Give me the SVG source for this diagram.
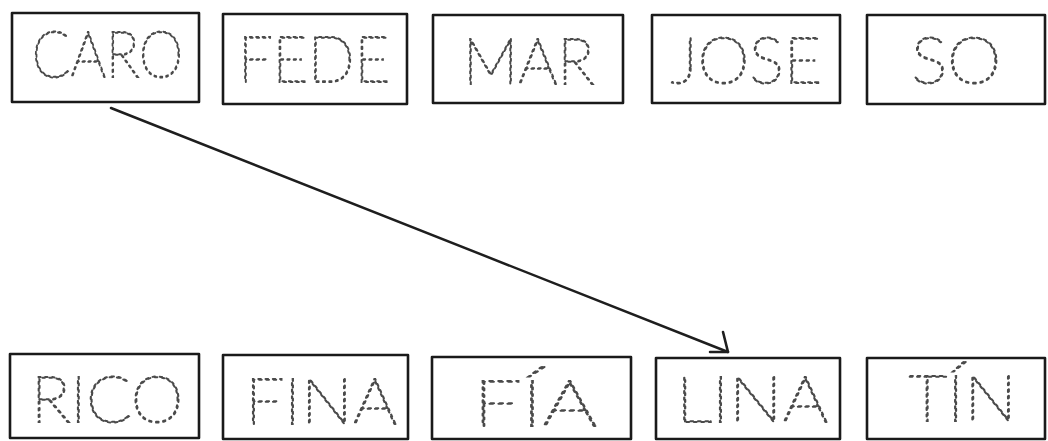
<svg xmlns="http://www.w3.org/2000/svg" width="1048" height="441" viewBox="0 0 1048 441">
  <style>
    .box { fill: #ffffff; stroke: #1a1a1a; stroke-width: 2.6; stroke-linejoin: round; }
    .lbl { font-family: "Lato", "Inter", "Roboto", "DejaVu Sans", sans-serif; font-weight: 100; font-size: 63px; fill: none; stroke: #4a4a4a; stroke-width: 2; stroke-dasharray: 2.2 4.4; stroke-linecap: round; }
    .conn { fill: none; stroke: #1e1e1e; stroke-width: 2.5; stroke-linecap: round; }
  </style>
  <defs>
    <marker id="arrow" markerUnits="userSpaceOnUse" viewBox="-22 -22 28 34" refX="0" refY="0" markerWidth="28" markerHeight="34" orient="auto" overflow="visible">
      <path d="M-16.7,6.6 L0,0 L-12,-16.8" fill="none" stroke="#1e1e1e" stroke-width="2.6" stroke-linecap="round" stroke-linejoin="round"/>
    </marker>
  </defs>
  <rect width="1048" height="441" fill="#ffffff"/>

  <g id="node-caro"><rect class="box" x="12" y="13" width="187" height="89"/><text class="lbl" x="32" y="77" textLength="151" lengthAdjust="spacingAndGlyphs">CARO</text></g>
  <g id="node-fede"><rect class="box" x="223" y="14" width="184" height="90"/><text class="lbl" x="238" y="82" textLength="152" lengthAdjust="spacingAndGlyphs">FEDE</text></g>
  <g id="node-mar"><rect class="box" x="433" y="15" width="190" height="88"/><text class="lbl" x="463" y="84" textLength="131" lengthAdjust="spacingAndGlyphs">MAR</text></g>
  <g id="node-jose"><rect class="box" x="652" y="15" width="188" height="88"/><text class="lbl" x="671" y="83" textLength="151" lengthAdjust="spacingAndGlyphs">JOSE</text></g>
  <g id="node-so"><rect class="box" x="867" y="15" width="178" height="89"/><text class="lbl" x="911" y="83" textLength="90" lengthAdjust="spacingAndGlyphs">SO</text></g>

  <g id="node-rico"><rect class="box" x="10" y="354" width="189" height="84"/><text class="lbl" x="31" y="422" textLength="152" lengthAdjust="spacingAndGlyphs">RICO</text></g>
  <g id="node-fina"><rect class="box" x="223" y="355" width="185" height="84"/><text class="lbl" x="245" y="424" textLength="152" lengthAdjust="spacingAndGlyphs">FINA</text></g>
  <g id="node-fia"><rect class="box" x="432" y="357" width="199" height="82"/><text class="lbl" x="473" y="426" textLength="124" lengthAdjust="spacingAndGlyphs">FÍA</text></g>
  <g id="node-lina"><rect class="box" x="656" y="358" width="184" height="81"/><text class="lbl" x="676" y="422" textLength="152" lengthAdjust="spacingAndGlyphs">LINA</text></g>
  <g id="node-tin"><rect class="box" x="867" y="358" width="178" height="81"/><text class="lbl" x="907" y="421" textLength="110" lengthAdjust="spacingAndGlyphs">TÍN</text></g>

  <g id="connectors">
    <line class="conn" x1="111" y1="108" x2="728" y2="352" marker-end="url(#arrow)"/>
  </g>
</svg>
